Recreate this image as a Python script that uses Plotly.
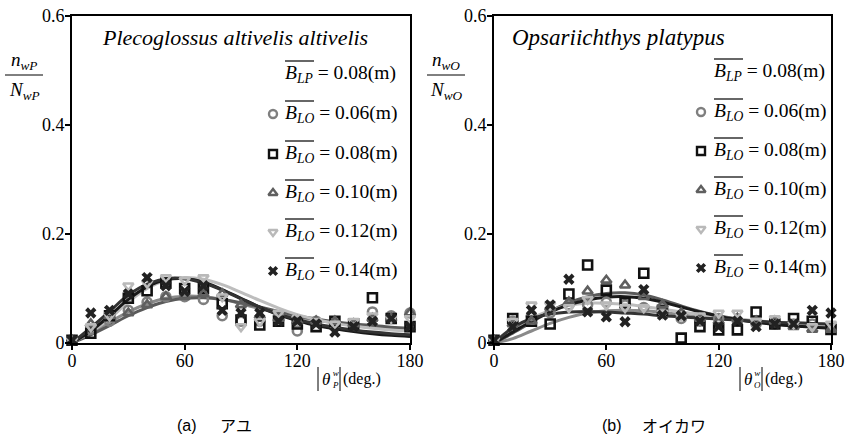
import plotly.graph_objects as go

W, H = 845, 444

# ---------------- data ----------------
angles = [0, 10, 20, 30, 40, 50, 60, 70, 80, 90, 100, 110, 120, 130, 140, 150, 160, 170, 180]
series_names = ["0.06", "0.08", "0.10", "0.12", "0.14"]

# Plecoglossus altivelis altivelis (a)
a_circle = [0.005, 0.025, 0.040, 0.060, 0.075, 0.085, 0.085, 0.080, 0.050, 0.040, 0.040, 0.050, 0.022, 0.040, 0.035, 0.035, 0.057, 0.050, 0.055]
a_square = [0.005, 0.018, 0.050, 0.082, 0.096, 0.110, 0.100, 0.100, 0.072, 0.042, 0.033, 0.040, 0.035, 0.030, 0.040, 0.035, 0.083, 0.045, 0.030]
a_triup = [0.005, 0.035, 0.050, 0.055, 0.070, 0.085, 0.085, 0.090, 0.090, 0.070, 0.050, 0.045, 0.040, 0.040, 0.040, 0.035, 0.045, 0.045, 0.055]
a_tridn = [0.005, 0.030, 0.050, 0.105, 0.110, 0.120, 0.115, 0.120, 0.085, 0.030, 0.040, 0.055, 0.045, 0.040, 0.035, 0.040, 0.050, 0.045, 0.045]
a_cross = [0.005, 0.055, 0.060, 0.090, 0.120, 0.105, 0.095, 0.105, 0.060, 0.055, 0.055, 0.040, 0.040, 0.035, 0.020, 0.030, 0.040, 0.045, 0.030]

a_fit_circle = [0, 0.018, 0.038, 0.057, 0.072, 0.082, 0.086, 0.085, 0.080, 0.072, 0.063, 0.055, 0.048, 0.042, 0.037, 0.033, 0.030, 0.027, 0.025]
a_fit_square = [0, 0.022, 0.050, 0.080, 0.103, 0.116, 0.118, 0.112, 0.098, 0.082, 0.066, 0.052, 0.041, 0.032, 0.026, 0.021, 0.017, 0.014, 0.012]
a_fit_triup = [0, 0.015, 0.032, 0.050, 0.065, 0.076, 0.082, 0.083, 0.080, 0.074, 0.066, 0.058, 0.050, 0.044, 0.039, 0.035, 0.032, 0.029, 0.027]
a_fit_tridn = [0, 0.020, 0.045, 0.075, 0.100, 0.115, 0.120, 0.117, 0.107, 0.093, 0.078, 0.064, 0.052, 0.043, 0.036, 0.031, 0.027, 0.024, 0.022]
a_fit_cross = [0, 0.028, 0.058, 0.088, 0.108, 0.118, 0.118, 0.110, 0.097, 0.081, 0.066, 0.053, 0.043, 0.035, 0.029, 0.024, 0.020, 0.017, 0.015]

# Opsariichthys platypus (b)
b_circle = [0.005, 0.040, 0.050, 0.055, 0.070, 0.070, 0.075, 0.070, 0.065, 0.055, 0.045, 0.040, 0.045, 0.040, 0.035, 0.035, 0.035, 0.035, 0.030]
b_square = [0.005, 0.045, 0.040, 0.035, 0.090, 0.143, 0.097, 0.074, 0.128, 0.060, 0.009, 0.030, 0.024, 0.024, 0.057, 0.035, 0.045, 0.040, 0.025]
b_triup = [0.005, 0.035, 0.040, 0.065, 0.075, 0.095, 0.115, 0.106, 0.085, 0.070, 0.055, 0.045, 0.040, 0.045, 0.040, 0.040, 0.030, 0.025, 0.025]
b_tridn = [0.005, 0.040, 0.070, 0.070, 0.065, 0.080, 0.070, 0.065, 0.065, 0.055, 0.050, 0.050, 0.055, 0.055, 0.040, 0.045, 0.035, 0.030, 0.035]
b_cross = [0.005, 0.030, 0.060, 0.070, 0.117, 0.057, 0.048, 0.039, 0.098, 0.051, 0.050, 0.040, 0.030, 0.040, 0.030, 0.035, 0.035, 0.060, 0.055]

b_fit_circle = [0, 0.008, 0.022, 0.036, 0.047, 0.055, 0.059, 0.060, 0.059, 0.056, 0.052, 0.048, 0.045, 0.042, 0.039, 0.037, 0.035, 0.033, 0.032]
b_fit_square = [0, 0.020, 0.040, 0.057, 0.070, 0.079, 0.084, 0.085, 0.082, 0.075, 0.066, 0.057, 0.049, 0.043, 0.038, 0.034, 0.031, 0.029, 0.027]
b_fit_triup = [0, 0.018, 0.038, 0.058, 0.074, 0.085, 0.091, 0.092, 0.088, 0.079, 0.068, 0.058, 0.050, 0.044, 0.039, 0.035, 0.032, 0.030, 0.028]
b_fit_tridn = [0, 0.025, 0.045, 0.060, 0.069, 0.073, 0.073, 0.071, 0.067, 0.062, 0.057, 0.052, 0.048, 0.044, 0.041, 0.038, 0.036, 0.034, 0.033]
b_fit_cross = [0, 0.028, 0.045, 0.053, 0.057, 0.058, 0.057, 0.055, 0.053, 0.050, 0.048, 0.046, 0.044, 0.042, 0.040, 0.038, 0.037, 0.036, 0.035]

x_ticks = [0, 60, 120, 180]
y_ticks = [0, 0.2, 0.4, 0.6]
y_ticktext = ["0", "0.2", "0.4", "0.6"]

# ---------------- style ----------------
styles = {
    "0.06": dict(symbol="circle-open", color="#7f7f7f", line="#8a8a8a"),
    "0.08": dict(symbol="square-open", color="#111111", line="#1a1a1a"),
    "0.10": dict(symbol="triangle-up-open", color="#5f5f5f", line="#5a5a5a"),
    "0.12": dict(symbol="triangle-down-open", color="#b9b9b9", line="#bdbdbd"),
    "0.14": dict(symbol="x", color="#222222", line="#333333"),
}

SERIF = "Liberation Serif"


def px(x):
    return x / W


def py(y):
    return 1 - y / H


def marker_style(name, size_open=9, size_x=10, lw=2.6):
    st = styles[name]
    if st["symbol"] == "x":
        return dict(symbol="x", size=size_x, color=st["color"], line=dict(width=0))
    return dict(symbol=st["symbol"], size=size_open, color=st["color"],
                line=dict(width=lw, color=st["color"]))


fig = go.Figure()

panels = [
    ("x", "y",
     dict(zip(series_names, [a_fit_circle, a_fit_square, a_fit_triup, a_fit_tridn, a_fit_cross])),
     dict(zip(series_names, [a_circle, a_square, a_triup, a_tridn, a_cross]))),
    ("x2", "y2",
     dict(zip(series_names, [b_fit_circle, b_fit_square, b_fit_triup, b_fit_tridn, b_fit_cross])),
     dict(zip(series_names, [b_circle, b_square, b_triup, b_tridn, b_cross]))),
]

for xa, ya, fits, pts in panels:
    for name in ["0.06", "0.10", "0.12", "0.08", "0.14"]:
        st = styles[name]
        fig.add_trace(go.Scatter(
            x=angles, y=fits[name], mode="lines", xaxis=xa, yaxis=ya,
            line=dict(color=st["line"], width=3, shape="spline", smoothing=1.0),
            hoverinfo="skip", showlegend=False))
    for name in series_names:
        fig.add_trace(go.Scatter(
            x=angles, y=pts[name], mode="markers", xaxis=xa, yaxis=ya,
            marker=marker_style(name), cliponaxis=False, showlegend=False,
            name=name))

# legend keys drawn on a pixel-space overlay axis (layout positions, not data)
legend_key_rows = [114, 154, 193, 232, 271]
legend_key_rows_r = [112, 151, 190, 229, 268]
for mx, rows in [(273, legend_key_rows), (701, legend_key_rows_r)]:
    for name, yy in zip(series_names, rows):
        fig.add_trace(go.Scatter(
            x=[mx], y=[yy], mode="markers", xaxis="x3", yaxis="y3",
            marker=marker_style(name, size_open=8, size_x=9, lw=2.4),
            hoverinfo="skip", showlegend=False, cliponaxis=False))

axis_common = dict(
    showline=True, linewidth=2, linecolor="black", mirror=True,
    ticks="outside", ticklen=5, tickwidth=1.5, tickcolor="black",
    showgrid=False, zeroline=False, automargin=False,
    tickfont=dict(family=SERIF, size=18, color="black"),
)

ydom = [py(343), py(16)]
fig.update_layout(
    width=W, height=H,
    margin=dict(l=0, r=0, t=0, b=0, autoexpand=False),
    paper_bgcolor="white", plot_bgcolor="rgba(0,0,0,0)",
    xaxis=dict(domain=[px(72), px(410)], range=[0, 180], tickvals=x_ticks, anchor="y",
               ticklabelstandoff=-5, **axis_common),
    yaxis=dict(domain=ydom, range=[0, 0.6], tickvals=y_ticks, ticktext=y_ticktext, anchor="x",
               ticklabelstandoff=-3, **axis_common),
    xaxis2=dict(domain=[px(494), px(831)], range=[0, 180], tickvals=x_ticks, anchor="y2",
                ticklabelstandoff=-5, **axis_common),
    yaxis2=dict(domain=ydom, range=[0, 0.6], tickvals=y_ticks, ticktext=y_ticktext, anchor="x2",
                ticklabelstandoff=-3, **axis_common),
    xaxis3=dict(domain=[0, 1], range=[0, W], visible=False, automargin=False, fixedrange=True, anchor="y3"),
    yaxis3=dict(domain=[0, 1], range=[H, 0], visible=False, automargin=False, fixedrange=True, anchor="x3"),
    showlegend=False,
)

annotations = []
shapes = []


def text(x, y, t, size=19, family=SERIF, xanchor="left", color="black"):
    annotations.append(dict(x=px(x), y=py(y), xref="paper", yref="paper", text=t,
                            showarrow=False, xanchor=xanchor, yanchor="middle",
                            font=dict(family=family, size=size, color=color)))


def hline(x0, x1, y, width=1.2, color="black"):
    shapes.append(dict(type="line", xref="paper", yref="paper",
                       x0=px(x0), x1=px(x1), y0=py(y), y1=py(y),
                       line=dict(color=color, width=width)))


def vline(x, y0, y1, width=1.0, color="black"):
    shapes.append(dict(type="line", xref="paper", yref="paper",
                       x0=px(x), x1=px(x), y0=py(y0), y1=py(y1),
                       line=dict(color=color, width=width)))


# titles
text(100, 37, "<i>Plecoglossus altivelis altivelis</i>", size=22)
text(510, 37, "<i>Opsariichthys platypus</i>", size=23)

# y-axis fraction labels
for cx, sub in [(24, "wP"), (446, "wO")]:
    text(cx, 61, "<i>n</i><sub><i>%s</i></sub>" % sub, size=19, xanchor="center")
    hline(cx - 19, cx + 19, 75, width=1)
    text(cx, 91, "<i>N</i><sub><i>%s</i></sub>" % sub, size=19, xanchor="center")

# x-axis titles: |θ (w over P) |(deg.)
for x0, sub in [(318, "P"), (740, "O")]:
    vline(x0, 367, 391, width=1)
    text(x0 + 2, 379, "<i>θ</i>", size=17)
    text(x0 + 12, 379, "<i>w</i><br><i>%s</i>" % sub, size=9)
    vline(x0 + 22, 367, 391, width=1)
    text(x0 + 23, 379, "(deg.)", size=16)

# subcaptions
text(175, 425, "(a)", size=16, family="Liberation Sans")
text(218, 425, "アユ", size=16, family="Noto Sans CJK JP")
text(600, 425, "(b)", size=16, family="Liberation Sans")
text(640, 425, "オイカワ", size=16, family="Noto Sans CJK JP")

# legend-like text
legend_rows = [("LP", "0.08")] + [("LO", n) for n in series_names]
for bx, rows_y in [(283, [74] + legend_key_rows), (712, [72] + legend_key_rows_r)]:
    for (sub, val), yy in zip(legend_rows, rows_y):
        text(bx, yy, "<i>B</i><sub><i>%s</i></sub> = %s(m)" % (sub, val), size=19.5)
        hline(bx + 2, bx + 31, yy - 13, width=1.2)

fig.update_layout(annotations=annotations, shapes=shapes)

fig.write_html("out.html")
